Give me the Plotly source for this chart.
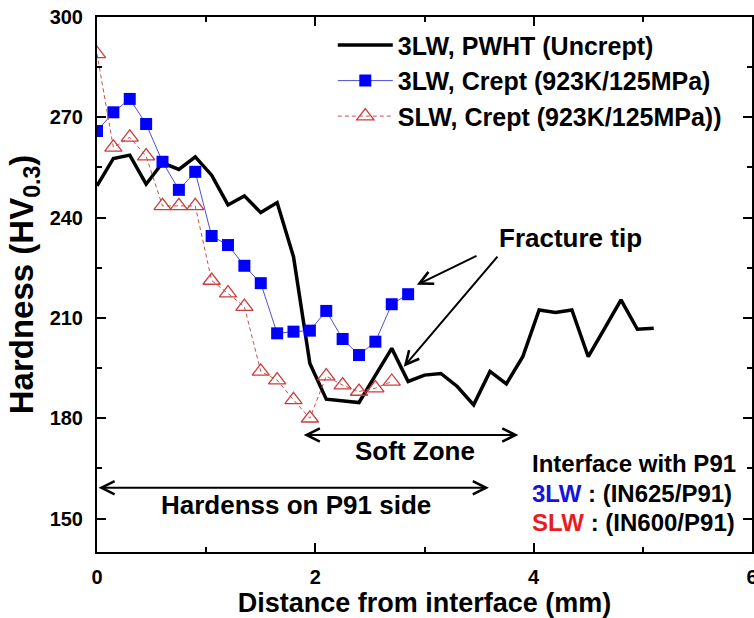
import plotly.graph_objects as go

# ---- data ----
x_pwht = [0.0, 0.15, 0.30, 0.45, 0.60, 0.75, 0.90, 1.05, 1.20, 1.35, 1.50, 1.65, 1.80, 1.95,
          2.10, 2.25, 2.40, 2.55, 2.70, 2.85, 3.00, 3.15, 3.30, 3.45, 3.60, 3.75, 3.90, 4.05,
          4.20, 4.35, 4.50, 4.65, 4.80, 4.95, 5.10]
y_pwht = [249.5, 257.7, 258.7, 250.0, 256.4, 254.4, 258.2, 252.7, 243.8, 246.5, 241.5, 244.5,
          228.3, 196.4, 185.7, 185.2, 184.7, 192.8, 200.9, 191.0, 192.9, 193.4, 189.5, 184.0,
          194.0, 190.3, 198.4, 212.4, 211.6, 212.4, 198.4, 206.9, 215.4, 206.6, 206.9]

x_3lw = [0.0, 0.15, 0.30, 0.45, 0.60, 0.75, 0.90, 1.05, 1.20, 1.35, 1.50, 1.65, 1.80, 1.95,
         2.10, 2.25, 2.40, 2.55, 2.70, 2.85]
y_3lw = [265.9, 271.5, 275.5, 268.0, 256.7, 248.3, 253.7, 234.5, 231.8, 225.6, 220.4, 205.4,
         205.9, 206.2, 212.1, 203.7, 198.9, 202.9, 214.1, 217.1]

x_slw = [0.0, 0.15, 0.30, 0.45, 0.60, 0.75, 0.90, 1.05, 1.20, 1.35, 1.50, 1.65, 1.80, 1.95,
         2.10, 2.25, 2.40, 2.55, 2.70]
y_slw = [289.0, 261.0, 264.0, 258.4, 243.5, 243.5, 243.5, 221.2, 217.4, 213.4, 194.0, 191.4,
         185.5, 180.0, 192.6, 189.9, 188.0, 189.0, 191.0]

x_tickvals = [0, 2, 4, 6]
x_ticktext = ["0", "2", "4", "6"]

series_names = ["3LW, PWHT (Uncrept)", "3LW, Crept (923K/125MPa)", "SLW, Crept (923K/125MPa))"]

FONT = "Arial, Liberation Sans, sans-serif"

fig = go.Figure()
fig.add_trace(go.Scatter(x=x_pwht, y=y_pwht, mode="lines", name=series_names[0],
                         line=dict(color="black", width=3.5)))
fig.add_trace(go.Scatter(x=x_3lw, y=y_3lw, mode="lines+markers", name=series_names[1],
                         line=dict(color="rgb(80,80,210)", width=1),
                         marker=dict(symbol="square", size=12, color="rgb(0,0,255)",
                                     line=dict(width=0))))
fig.add_trace(go.Scatter(x=x_slw, y=y_slw, mode="lines+markers", name=series_names[2],
                         line=dict(color="rgb(200,80,80)", width=1, dash="4px,3px"),
                         marker=dict(symbol="triangle-up-open", size=15, color="rgb(205,60,60)",
                                     line=dict(width=1.3))))

ann = []
# Fracture tip
ann.append(dict(x=4.34, y=233.9, xref="x", yref="y", text="<b>Fracture tip</b>", showarrow=False,
                font=dict(family=FONT, size=26, color="black")))
ann.append(dict(x=2.93, y=219.9, ax=3.49, ay=228.8, xref="x", yref="y", axref="x", ayref="y",
                text="", showarrow=True, arrowhead=5, arrowsize=1.3, arrowwidth=2, arrowcolor="black"))
ann.append(dict(x=2.81, y=195.4, ax=3.68, ay=228.8, xref="x", yref="y", axref="x", ayref="y",
                text="", showarrow=True, arrowhead=5, arrowsize=1.3, arrowwidth=2, arrowcolor="black"))
# Soft zone
ann.append(dict(x=3.86, y=175.0, ax=1.88, ay=175.0, xref="x", yref="y", axref="x", ayref="y",
                text="", showarrow=True, arrowhead=5, startarrowhead=5, arrowside="end+start",
                arrowsize=1.3, startarrowsize=1.3, arrowwidth=2, arrowcolor="black"))
ann.append(dict(x=2.91, y=170.2, xref="x", yref="y", text="<b>Soft Zone</b>", showarrow=False,
                font=dict(family=FONT, size=26, color="black")))
# Hardness on P91 side
ann.append(dict(x=3.59, y=159.2, ax=0.0, ay=159.2, xref="x", yref="y", axref="x", ayref="y",
                text="", showarrow=True, arrowhead=5, startarrowhead=5, arrowside="end+start",
                arrowsize=1.3, startarrowsize=1.3, arrowwidth=2, arrowcolor="black"))
ann.append(dict(x=1.82, y=154.0, xref="x", yref="y", text="<b>Hardenss on P91 side</b>", showarrow=False,
                font=dict(family=FONT, size=26, color="black")))
# Interface text
ann.append(dict(x=3.97, y=166.6, xref="x", yref="y", xanchor="left", text="<b>Interface with P91</b>",
                showarrow=False, font=dict(family=FONT, size=24, color="black")))
ann.append(dict(x=3.97, y=157.6, xref="x", yref="y", xanchor="left",
                text="<b><span style='color:rgb(20,20,220)'>3LW</span> : (IN625/P91)</b>",
                showarrow=False, font=dict(family=FONT, size=24, color="black")))
ann.append(dict(x=3.97, y=148.7, xref="x", yref="y", xanchor="left",
                text="<b><span style='color:rgb(230,30,30)'>SLW</span> : (IN600/P91)</b>",
                showarrow=False, font=dict(family=FONT, size=24, color="black")))

fig.update_layout(
    width=754, height=618,
    margin=dict(l=97, r=2, t=17, b=66, autoexpand=False),
    plot_bgcolor="white", paper_bgcolor="white",
    font=dict(family=FONT, color="black"),
    showlegend=True,
    legend=dict(x=0.36, y=0.99, xanchor="left", yanchor="top", bgcolor="rgba(0,0,0,0)",
                font=dict(family=FONT, size=25, color="black", weight="bold"),
                itemwidth=55, tracegroupgap=0),
    annotations=ann,
)
fig.update_xaxes(range=[0, 6], tickmode="array", tickvals=x_tickvals, ticktext=x_ticktext,
                 showgrid=False, zeroline=False, ticklabeloverflow="allow", automargin=False,
                 showline=True, linecolor="black", linewidth=2, mirror="ticks",
                 ticks="inside", ticklen=9, tickwidth=2, tickcolor="black",
                 minor=dict(ticks="inside", dtick=1, ticklen=5, tickwidth=2, tickcolor="black"),
                 tickfont=dict(family=FONT, size=20, color="black", weight="bold"),
                 ticklabelstandoff=6,
                 title=dict(text="<b>Distance from interface (mm)</b>", standoff=6,
                            font=dict(family=FONT, size=27, color="black")))
fig.update_yaxes(range=[140, 300], dtick=30, tick0=150, showgrid=False, zeroline=False,
                 automargin=False,
                 showline=True, linecolor="black", linewidth=2, mirror="ticks",
                 ticks="inside", ticklen=9, tickwidth=2, tickcolor="black",
                 minor=dict(ticks="inside", dtick=15, ticklen=5, tickwidth=2, tickcolor="black"),
                 tickfont=dict(family=FONT, size=20, color="black", weight="bold"),
                 ticklabelstandoff=8,
                 title=dict(text="<b>Hardness (HV<sub>0.3</sub>)</b>", standoff=6,
                            font=dict(family=FONT, size=33, color="black")))

fig.write_html("out.html")
